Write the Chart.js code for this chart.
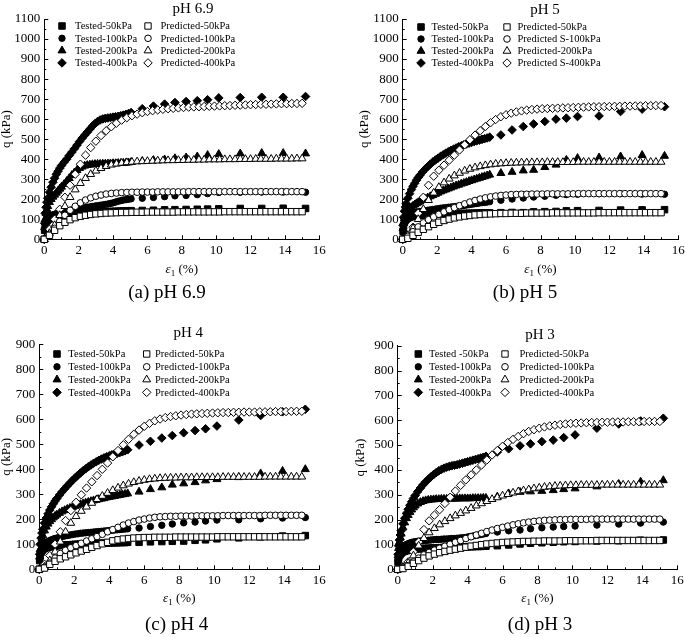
<!DOCTYPE html>
<html>
<head>
<meta charset="utf-8">
<script src="https://cdn.jsdelivr.net/npm/chart.js@4/dist/chart.umd.min.js"></script>
<style>
  html, body { margin: 0; padding: 0; background: #fff; }
  #wrap { position: relative; width: 685px; height: 637px; overflow: hidden; }
  #wrap canvas { position: absolute; left: 0; top: 0; }
</style>
</head>
<body>
<div id="wrap">
  <canvas id="chartA" width="685" height="637"></canvas>
  <canvas id="chartB" width="685" height="637"></canvas>
  <canvas id="chartC" width="685" height="637"></canvas>
  <canvas id="chartD" width="685" height="637"></canvas>
</div>
<script>
// strain (%) of the tested points, shared by every tested series
const strainTested = [0, 0.02, 0.05, 0.1, 0.15, 0.2, 0.3, 0.4, 0.5, 0.6, 0.7, 0.8, 0.9, 1.0,
  1.15, 1.3, 1.45, 1.6, 1.75, 1.9, 2.05, 2.2, 2.35, 2.5, 2.65, 2.8, 2.95, 3.1, 3.25, 3.4,
  3.55, 3.7, 3.85, 4.0, 4.15, 4.3, 4.45, 4.6, 4.75, 4.9, 5.05,
  5.7, 6.35, 7.0, 7.6, 8.25, 8.9, 9.5, 10.15, 11.4, 12.65, 13.9, 15.2];

// strain (%) of the predicted points
const strainPred = [0, 0.3, 0.6, 0.9, 1.2, 1.5, 1.8, 2.1, 2.4, 2.7,
  3.0, 3.3, 3.6, 3.9, 4.2, 4.5, 4.8, 5.1, 5.4, 5.7,
  6.0, 6.3, 6.6, 6.9, 7.2, 7.5, 7.8, 8.1, 8.4, 8.7,
  9.0, 9.3, 9.6, 9.9, 10.2, 10.5, 10.8, 11.1, 11.4, 11.7,
  12.0, 12.3, 12.6, 12.9, 13.2, 13.5, 13.8, 14.1, 14.4, 14.7, 15.0];

// (a) pH 6.9, q in kPa
const aT50 = [0,45,70,85,92,97, 102,106,109,111,113,115,117,118,
  120,122,123,125,126,127,128,129,130,131,132,133,134,135,136,137,137,138,139,139,140,140,141,141,142,142,143,
  144,145,147,148,149,150,151,152,154,154,155,154];
const aT100 = [0,50,80,100,108,112, 116,119,122,125,128,130,132,135,
  138,141,144,147,150,152,154,156,158,160,162,164,166,168,170,172,174,176,179,182,186,190,193,196,198,200,202,
  205,209,213,217,219,223,228,234,235,236,236,235];
const aT200 = [0,60,100,130,150,165, 185,200,212,222,232,242,252,262,
  275,290,305,320,333,345,355,362,367,370,372,374,375,376,376,377,377,378,378,379,379,380,380,381,382,383,385,
  390,395,398,404,408,413,420,425,428,430,430,428];
const aT400 = [0,80,130,160,185,205, 235,260,285,305,325,340,355,368,
  385,400,418,435,452,470,488,505,520,535,550,565,578,588,596,601,604,606,608,610,612,614,617,620,624,628,633,
  652,665,675,683,688,692,697,706,708,709,709,713];
const aP50 = [0,20,45,68,85,98,108,115,120,124, 127,129,131,132,133,134,134,135,135,135,
  136,136,136,136,136,136,137,137,137,137, 137,137,137,137,137,138,138,138,138,138,
  138,138,138,138,138,138,138,138,138,138, 138];
const aP100 = [0,25,55,90,120,145,165,182,196,207, 215,221,226,229,231,233,234,235,235,236,
  236,236,237,237,237,237,237,237,238,238, 238,238,238,238,238,238,238,238,238,238,
  238,238,238,238,238,238,238,238,238,238, 238];
const aP200 = [0,30,70,120,165,210,248,280,305,325, 342,355,365,372,377,381,384,386,388,389,
  390,391,392,393,394,394,395,395,396,396, 397,397,398,398,398,399,399,399,400,400,
  400,401,401,401,401,402,402,402,402,403, 403];
const aP400 = [0,50,100,150,210,270,325,375,420,458, 490,518,542,562,580,595,607,617,625,632,
  638,642,646,649,652,654,656,658,660,661, 662,663,664,665,666,667,668,669,670,671,
  672,673,674,674,675,676,677,677,678,678, 679];

// (b) pH 5
const bT50 = [0,40,65,85,95,100, 106,110,113,115,117,118,119,120,
  121,122,123,124,124,125,125,126,126,127,127,127,128,128,128,129,129,129,130,130,130,131,131,131,132,132,132,
  133,134,133,137,138,139,142,143,144,146,147,148];
const bT100 = [0,45,75,95,105,111, 118,123,127,130,133,135,137,139,
  141,143,145,147,149,151,153,155,157,158,160,161,163,164,166,167,169,171,173,175,177,179,181,183,184,186,188,
  195,201,206,211,215,220,223,225,228,228,226,225];
const bT200 = [0,55,85,105,118,128, 142,152,160,167,173,179,184,189,
  196,202,208,214,220,226,232,238,243,248,253,258,263,268,272,277,281,285,290,294,298,302,306,310,314,318,322,
  330,336,343,346,360,372,396,405,408,413,420,416];
const bT400 = [0,70,110,140,160,178, 205,228,248,265,280,295,308,320,
  336,350,363,375,386,396,405,414,422,430,437,444,450,456,462,467,472,476,480,484,488,492,495,499,502,506,510,
  521,546,563,576,588,600,605,613,616,638,650,662];
const bP50 = [0,5,20,35,50,63,75,85,94,101, 107,112,116,119,122,124,126,127,128,129,
  129,130,130,130,131,131,131,131,131,132, 132,132,132,132,132,132,132,132,133,133,
  133,133,133,133,133,133,133,133,133,133, 133];
const bP100 = [0,15,38,62,82,98,112,125,137,148, 158,168,177,186,194,201,207,212,216,219,
  221,223,224,225,225,226,226,226,227,227, 227,227,227,227,228,228,228,228,228,228,
  228,228,228,228,228,228,228,228,228,228, 228];
const bP200 = [0,20,55,100,150,195,232,260,283,302, 318,331,342,351,358,364,369,373,376,378,
  380,381,382,383,383,384,384,384,385,385, 385,385,385,385,386,386,386,386,386,386,
  386,386,386,386,386,386,386,386,386,386, 386];
const bP400 = [0,15,60,130,210,270,315,345,370,395, 420,446,472,497,520,542,563,582,598,612,
  622,630,636,641,645,648,650,652,653,654, 655,656,657,658,659,660,661,662,662,663,
  663,664,664,665,665,666,666,667,667,668, 668];

// (c) pH 4
const cT50 = [0,35,55,68,74,78, 83,86,88,90,91,92,93,94,
  95,96,97,98,98,99,100,100,101,101,102,102,103,103,104,104,104,105,105,105,106,106,106,107,107,107,108,
  108,110,111,112,113,116,118,122,126,130,133,135];
const cT100 = [0,40,65,80,88,94, 102,107,111,115,118,121,123,125,
  128,131,133,135,137,139,141,142,144,145,146,147,148,149,150,151,152,153,154,155,156,157,158,159,160,161,162,
  165,171,176,181,186,189,193,197,198,202,205,207];
const cT200 = [0,50,80,105,122,135, 155,170,182,192,200,207,213,218,
  225,231,236,241,245,249,253,257,260,263,266,269,272,275,277,280,282,284,287,289,291,293,295,297,299,301,303,
  310,320,327,338,343,348,355,360,368,383,393,400];
const cT400 = [0,60,100,125,145,160, 185,205,222,237,250,262,273,283,
  297,310,322,334,345,356,366,376,385,394,402,410,417,424,430,436,441,446,450,454,458,461,464,467,470,474,478,
  497,512,525,535,546,555,562,573,597,615,630,640];
const cP50 = [0,5,20,32,42,50,58,66,73,80, 88,95,102,108,114,118,121,123,125,126,
  127,127,128,128,128,128,129,129,129,129, 129,129,129,129,130,130,130,130,130,130,
  130,130,130,130,130,130,130,130,130,130, 130];
const cP100 = [0,8,25,45,63,76,86,95,104,113, 122,131,140,150,159,168,177,185,191,197,
  201,205,208,210,211,212,212,213,213,213, 214,214,214,214,214,215,215,215,215,215,
  215,215,215,216,216,216,216,216,216,216, 216];
const cP200 = [0,10,35,70,110,150,185,212,233,250, 265,280,293,305,316,326,335,342,348,353,
  357,360,362,364,365,366,366,367,367,367, 368,368,368,368,368,369,369,369,369,369,
  369,369,369,370,370,370,370,370,370,370, 370];
const cP400 = [0,20,55,100,150,195,235,268,298,325, 350,375,400,425,450,475,498,520,540,557,
  572,584,594,601,607,611,614,617,619,621, 622,623,624,625,626,627,627,628,628,629,
  629,629,630,630,630,631,631,631,632,632, 632];

// (d) pH 3
const dT50 = [0,30,45,55,61,65, 70,73,75,77,78,79,80,81,
  82,83,84,84,85,85,86,86,87,87,88,88,88,89,89,89,90,90,90,91,91,91,92,92,92,93,93,
  95,98,102,105,107,109,111,112,114,115,117,118];
const dT100 = [0,35,55,70,78,84, 91,96,100,103,106,108,110,111,
  113,114,115,116,117,118,119,120,120,121,122,122,123,124,124,125,126,127,128,130,132,134,136,138,140,142,144,
  150,155,158,163,167,170,172,174,178,182,186,190];
const dT200 = [0,55,85,110,128,143, 168,188,205,218,230,240,249,256,
  264,270,274,277,279,280,281,282,282,283,283,283,284,284,284,284,285,285,285,285,285,286,286,286,286,287,287,
  292,305,311,313,315,318,322,325,333,343,352,358];
const dT400 = [0,60,95,118,138,155, 183,205,225,242,258,272,285,297,
  313,327,340,352,362,372,381,389,396,402,407,411,414,417,419,421,424,427,430,433,436,439,442,445,448,451,455,
  472,485,497,505,514,520,530,541,568,585,597,608];
const dP50 = [0,3,12,24,35,45,54,61,67,72, 77,81,85,89,93,96,99,102,104,106,
  108,109,110,111,112,112,113,113,114,114, 114,114,115,115,115,115,115,115,116,116,
  116,116,116,116,116,116,116,116,116,116, 116];
const dP100 = [0,5,15,30,45,58,68,77,85,93, 101,109,116,124,131,138,145,152,158,164,
  169,174,179,183,187,190,193,195,197,198, 199,200,200,201,201,201,201,202,202,202,
  202,202,202,202,202,202,202,202,202,202, 202];
const dP200 = [0,8,25,55,95,125,148,165,180,193, 205,216,226,236,246,256,265,274,282,289,
  296,302,308,313,317,321,325,328,331,333, 335,336,337,338,338,339,339,339,339,340,
  340,340,340,340,340,340,340,340,340,340, 340];
const dP400 = [0,10,30,70,110,160,195,218,240,265, 290,315,338,360,380,400,420,440,460,478,
  495,510,523,535,546,555,562,568,573,577, 580,583,585,587,588,589,590,591,591,592,
  592,593,593,593,594,594,594,595,595,595, 595];

// legend labels
const labelsTested = ['Tested-50kPa', 'Tested-100kPa', 'Tested-200kPa', 'Tested-400kPa'];
const labelsTestedD = ['Tested -50kPa', 'Tested-100kPa', 'Tested-200kPa', 'Tested-400kPa'];
const labelsPred = ['Predicted-50kPa', 'Predicted-100kPa', 'Predicted-200kPa', 'Predicted-400kPa'];
const labelsPredB = ['Predicted-50kPa', 'Predicted S-100kPa', 'Predicted-200kPa', 'Predicted S-400kPa'];

const FONT = '"Liberation Serif", "Times New Roman", serif';
Chart.defaults.font.family = FONT;
Chart.defaults.color = '#000';

const testedMarks = [
  { style: 'rect', r: 4.6 },
  { style: 'circle', r: 3.2 },
  { style: 'triangle', r: 4.6 },
  { style: 'rectRot', r: 4.3 }
];
const predMarks = [
  { style: 'rect', r: 4.5 },
  { style: 'circle', r: 3.3 },
  { style: 'triangle', r: 4.5 },
  { style: 'rectRot', r: 4.2 }
];

function toPoints(xs, ys) {
  return ys.map((y, i) => ({ x: xs[i], y: y }));
}

// same shapes as Chart.js uses, for the hand made legend
function drawMark(ctx, style, r, x, y, filled) {
  ctx.beginPath();
  if (style === 'rect') {
    const s = r * Math.SQRT1_2;
    ctx.rect(x - s, y - s, 2 * s, 2 * s);
  } else if (style === 'circle') {
    ctx.arc(x, y, r, 0, Math.PI * 2);
  } else if (style === 'triangle') {
    let a = 0;
    ctx.moveTo(x + Math.sin(a) * r, y - Math.cos(a) * r);
    a += Math.PI * 2 / 3;
    ctx.lineTo(x + Math.sin(a) * r, y - Math.cos(a) * r);
    a += Math.PI * 2 / 3;
    ctx.lineTo(x + Math.sin(a) * r, y - Math.cos(a) * r);
  } else {
    ctx.moveTo(x - r, y);
    ctx.lineTo(x, y - r);
    ctx.lineTo(x + r, y);
    ctx.lineTo(x, y + r);
  }
  ctx.closePath();
  ctx.fillStyle = filled ? '#000' : '#fff';
  ctx.fill();
  ctx.stroke();
}

// ticks pointing inward, titles, captions and legend
const panelDecor = {
  id: 'panelDecor',
  afterDraw(chart, args, opts) {
    const ctx = chart.ctx;
    const xs = chart.scales.x, ys = chart.scales.y;
    const area = chart.chartArea;
    ctx.save();
    ctx.strokeStyle = '#000';
    ctx.lineWidth = 1;
    ctx.beginPath();
    for (let v = 1; v <= 16; v++) {
      const px = Math.round(xs.getPixelForValue(v)) + 0.5;
      const len = v % 2 === 0 ? 4 : 2;
      ctx.moveTo(px, area.bottom);
      ctx.lineTo(px, area.bottom - len);
    }
    for (let v = 50; v <= ys.max; v += 50) {
      const py = Math.round(ys.getPixelForValue(v)) + 0.5;
      const len = v % 100 === 0 ? 4 : 2;
      ctx.moveTo(area.left, py);
      ctx.lineTo(area.left + len, py);
    }
    ctx.stroke();

    ctx.fillStyle = '#000';
    ctx.textAlign = 'center';
    ctx.textBaseline = 'middle';
    ctx.font = '15px ' + FONT;
    ctx.fillText(opts.title, opts.titleX, opts.titleY);
    ctx.font = '19px ' + FONT;
    ctx.fillText(opts.caption, opts.capX, opts.capY);

    // x axis title: italic epsilon with subscript 1
    const cx = (area.left + area.right) / 2;
    ctx.textAlign = 'left';
    ctx.textBaseline = 'alphabetic';
    ctx.font = 'italic 13px ' + FONT;
    const w1 = ctx.measureText('\u03b5').width;
    ctx.font = '9px ' + FONT;
    const w2 = ctx.measureText('1').width;
    ctx.font = '13px ' + FONT;
    const w3 = ctx.measureText(' (%)').width;
    let tx = cx - (w1 + w2 + w3) / 2;
    const base = opts.xTitleY + 4.5;
    ctx.font = 'italic 13px ' + FONT;
    ctx.fillText('\u03b5', tx, base);
    tx += w1;
    ctx.font = '9px ' + FONT;
    ctx.fillText('1', tx, base + 3);
    tx += w2;
    ctx.font = '13px ' + FONT;
    ctx.fillText(' (%)', tx, base);

    // legend, two columns
    const lg = opts.legend;
    ctx.font = '10.5px ' + FONT;
    ctx.textBaseline = 'middle';
    chart.data.datasets.forEach((ds, i) => {
      const col = i < 4 ? 0 : 1;
      const row = i % 4;
      const y = lg.y0 + row * lg.dy;
      const mx = col === 0 ? lg.m1 : lg.m2;
      const txx = col === 0 ? lg.t1 : lg.t2;
      ctx.lineWidth = 1;
      drawMark(ctx, ds.pointStyle, ds.pointRadius, mx, y, col === 0);
      ctx.fillStyle = '#000';
      ctx.fillText(ds.label, txx, y + 0.5);
    });
    ctx.restore();
  }
};

const panels = [
  { canvas: 'chartA', title: 'pH 6.9', caption: '(a) pH 6.9', ymax: 1100,
    left: 44.3, right: 319.3, top: 19, bottom: 239.3, yTitleX: 7, xTitleY: 268.3,
    titleX: 193, titleY: 9.5, capX: 167, capY: 293,
    legend: { m1: 62, t1: 75, m2: 148, t2: 160.5, y0: 26, dy: 12.3 },
    tested: [aT50, aT100, aT200, aT400], pred: [aP50, aP100, aP200, aP400],
    tLabels: labelsTested, pLabels: labelsPred },
  { canvas: 'chartB', title: 'pH 5', caption: '(b) pH 5', ymax: 1100,
    left: 402.7, right: 678.3, top: 19, bottom: 239.3, yTitleX: 365, xTitleY: 268.3,
    titleX: 545, titleY: 10, capX: 525, capY: 293,
    legend: { m1: 421, t1: 431.5, m2: 507, t2: 517.5, y0: 27, dy: 12 },
    tested: [bT50, bT100, bT200, bT400], pred: [bP50, bP100, bP200, bP400],
    tLabels: labelsTested, pLabels: labelsPredB },
  { canvas: 'chartC', title: 'pH 4', caption: '(c) pH 4', ymax: 900,
    left: 39.3, right: 319.3, top: 344.3, bottom: 569.3, yTitleX: 6.7, xTitleY: 597.7,
    titleX: 188.3, titleY: 333.3, capX: 176.7, capY: 625,
    legend: { m1: 57, t1: 68.3, m2: 146.7, t2: 155, y0: 354, dy: 12.8 },
    tested: [cT50, cT100, cT200, cT400], pred: [cP50, cP100, cP200, cP400],
    tLabels: labelsTested, pLabels: labelsPred },
  { canvas: 'chartD', title: 'pH 3', caption: '(d) pH 3', ymax: 900,
    left: 397.7, right: 677.3, top: 345.7, bottom: 569.3, yTitleX: 360.7, xTitleY: 597.7,
    titleX: 540, titleY: 335, capX: 540, capY: 625,
    legend: { m1: 418.3, t1: 429, m2: 505, t2: 519.5, y0: 354, dy: 12.8 },
    tested: [dT50, dT100, dT200, dT400], pred: [dP50, dP100, dP200, dP400],
    tLabels: labelsTestedD, pLabels: labelsPred }
];

function makePanel(p) {
  const datasets = [];
  p.tested.forEach((ys, i) => {
    datasets.push({
      label: p.tLabels[i],
      data: toPoints(strainTested, ys),
      pointStyle: testedMarks[i].style,
      pointRadius: testedMarks[i].r,
      backgroundColor: '#000',
      borderColor: '#000',
      borderWidth: 1,
      showLine: false,
      clip: false,
      order: 1
    });
  });
  p.pred.forEach((ys, i) => {
    datasets.push({
      label: p.pLabels[i],
      data: toPoints(strainPred, ys),
      pointStyle: predMarks[i].style,
      pointRadius: predMarks[i].r,
      backgroundColor: '#fff',
      borderColor: '#000',
      borderWidth: 1,
      showLine: false,
      clip: false,
      order: 0
    });
  });

  const xAxisH = 30;
  return new Chart(document.getElementById(p.canvas), {
    type: 'scatter',
    data: { datasets: datasets },
    options: {
      responsive: false,
      animation: false,
      events: [],
      layout: {
        autoPadding: false,
        padding: { left: 0, top: p.top, right: 685 - p.right, bottom: 637 - p.bottom - xAxisH }
      },
      scales: {
        x: {
          type: 'linear',
          min: 0, max: 16,
          grid: { display: false, drawTicks: false },
          border: { display: true, color: '#000', width: 1 },
          ticks: { stepSize: 2, padding: 3, color: '#000', font: { size: 13 },
            callback: (v) => String(v) },
          afterFit(scale) {
            scale.height = xAxisH;
            scale.paddingLeft = 0;
            scale.paddingRight = 0;
          }
        },
        y: {
          type: 'linear',
          min: 0, max: p.ymax,
          grid: { display: false, drawTicks: false },
          border: { display: true, color: '#000', width: 1 },
          ticks: { stepSize: 100, padding: 4, color: '#000', font: { size: 13 },
            callback: (v) => String(v) },
          title: {
            display: true, text: 'q (kPa)', color: '#000',
            font: { size: 13, lineHeight: 1 },
            padding: { top: Math.max(0, p.yTitleX - 6.5), bottom: 0 }
          },
          afterFit(scale) {
            scale.width = p.left;
            scale.paddingTop = 0;
            scale.paddingBottom = 0;
          }
        }
      },
      plugins: {
        legend: { display: false },
        tooltip: { enabled: false },
        panelDecor: {
          title: p.title, caption: p.caption,
          titleX: p.titleX, titleY: p.titleY, capX: p.capX, capY: p.capY,
          xTitleY: p.xTitleY, legend: p.legend
        }
      }
    },
    plugins: [panelDecor]
  });
}

panels.forEach(makePanel);
</script>
</body>
</html>
